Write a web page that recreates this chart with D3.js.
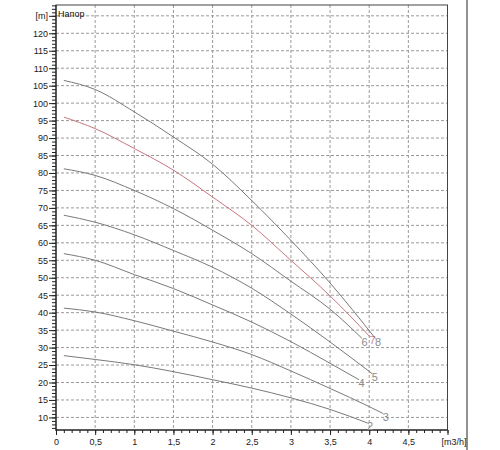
<!DOCTYPE html>
<html>
<head>
<meta charset="utf-8">
<script src="https://cdn.jsdelivr.net/npm/d3@7"></script>
<style>
    body { margin: 0; background: #fff; }
    .chart text { font-family: Arial, "Liberation Sans", sans-serif; }
    .axis text { font-size: 9px; fill: #222; }
    .axis line { stroke: #222; }
    .grid line { stroke: #9a9a9a; stroke-dasharray: 3,2; }
</style>
</head>
<body>
<div class="mainArea"></div>
<script>
// curve numbers (labels at the end of each curve)
let curveNames = ["2", "3", "4", "5", "6", "7", "8"];

// flow [m3/h] and head [m], one pair per curve
let flow2 = [0.1, 0.5, 1, 1.5, 2, 2.5, 3, 3.5, 3.98];
let head2 = [27.7, 26.6, 25.1, 23.1, 20.8, 18.4, 15.6, 12.3, 8.4];
let flow3 = [0.1, 0.5, 1, 1.5, 2, 2.5, 3, 3.5, 4, 4.18];
let head3 = [41.3, 40.2, 37.7, 34.7, 31.6, 28.0, 23.3, 18.3, 13.1, 11.1];
let flow4 = [0.1, 0.5, 1, 1.5, 2, 2.5, 3, 3.5, 3.87];
let head4 = [56.9, 55.0, 50.9, 46.9, 42.2, 37.3, 31.7, 25.5, 20.8];
let flow5 = [0.1, 0.5, 1, 1.5, 2, 2.5, 3, 3.5, 4.04];
let head5 = [67.9, 65.9, 62.3, 57.8, 53.0, 47.0, 39.6, 31.6, 22.5];
let flow6 = [0.1, 0.5, 1, 1.5, 2, 2.5, 3, 3.5, 3.91];
let head6 = [81.2, 79.3, 75.0, 69.8, 63.6, 56.9, 49.0, 41.0, 32.6];
let flow7 = [0.1, 0.5, 1, 1.5, 2, 2.5, 3, 3.5, 4.01];
let head7 = [96.0, 92.7, 87.0, 80.8, 73.1, 65.0, 55.0, 44.8, 33.1];
let flow8 = [0.1, 0.5, 1, 1.5, 2, 2.5, 3, 3.5, 4.08];
let head8 = [106.5, 103.9, 97.5, 90.3, 82.5, 72.1, 60.7, 48.5, 32.6];

// axis ticks
let xTicks = [0, 0.5, 1, 1.5, 2, 2.5, 3, 3.5, 4, 4.5, 5];
let xTickLabels = ["0", "0,5", "1", "1,5", "2", "2,5", "3", "3,5", "4", "4,5", "[m3/h]"];
let yTicks = [10, 15, 20, 25, 30, 35, 40, 45, 50, 55, 60, 65, 70, 75, 80, 85, 90, 95, 100, 105, 110, 115, 120, 125];
let yTickLabels = ["10", "15", "20", "25", "30", "35", "40", "45", "50", "55", "60", "65", "70", "75", "80", "85", "90", "95", "100", "105", "110", "115", "120", "[m]"];
let titleText = "Напор";

let flows = [flow2, flow3, flow4, flow5, flow6, flow7, flow8];
let heads = [head2, head3, head4, head5, head6, head7, head8];

drawChart();

function drawChart() {
    let svg = d3.select(".mainArea").append("svg")
        .attr("class", "chart")
        .attr("width", 500)
        .attr("height", 450);

    let left = 56, right = 447.5, top = 5, bottom = 430;

    let x = d3.scaleLinear().domain([0, 5]).range([left, right]);
    let y = d3.scaleLinear().domain([6.4, 128.1]).range([bottom, top]);

    // dashed grid
    let grid = svg.append("g").attr("class", "grid");
    grid.selectAll(".hline")
        .data(yTicks)
        .enter().append("line")
        .attr("x1", left).attr("x2", right)
        .attr("y1", d => y(d)).attr("y2", d => y(d));
    grid.selectAll(".vline")
        .data(xTicks.filter(d => d > 0 && d < 5))
        .enter().append("line")
        .attr("x1", d => x(d)).attr("x2", d => x(d))
        .attr("y1", top).attr("y2", bottom);

    // minor ticks
    let yAxisMinor = d3.axisLeft(y).tickValues(d3.range(7, 129, 1)).tickSize(4).tickFormat("");
    svg.append("g").attr("class", "axis")
        .attr("transform", "translate(" + left + ",0)")
        .call(yAxisMinor)
        .call(g => g.select(".domain").remove());
    let xAxisMinor = d3.axisBottom(x).tickValues(d3.range(0, 51, 1).map(d => d / 10)).tickSize(3).tickFormat("");
    svg.append("g").attr("class", "axis")
        .attr("transform", "translate(0," + bottom + ")")
        .call(xAxisMinor)
        .call(g => g.select(".domain").remove());

    // major ticks with labels
    let yAxis = d3.axisLeft(y).tickValues(yTicks).tickSize(7).tickPadding(1)
        .tickFormat((d, i) => yTickLabels[i]);
    svg.append("g").attr("class", "axis")
        .attr("transform", "translate(" + left + ",0)")
        .call(yAxis)
        .call(g => g.select(".domain").remove());

    let xAxis = d3.axisBottom(x).tickValues(xTicks).tickSize(5).tickPadding(4)
        .tickFormat((d, i) => xTickLabels[i]);
    let gx = svg.append("g").attr("class", "axis")
        .attr("transform", "translate(0," + bottom + ")")
        .call(xAxis)
        .call(g => g.select(".domain").remove());
    gx.selectAll(".tick text").filter(d => d == 5).attr("dx", 6);

    // plot frame
    svg.append("rect")
        .attr("x", left).attr("y", top)
        .attr("width", right - left).attr("height", bottom - top)
        .attr("fill", "none").attr("stroke", "#444").attr("stroke-width", 1);
    svg.append("line")
        .attr("x1", left).attr("x2", left).attr("y1", top).attr("y2", bottom + 1)
        .attr("stroke", "#111");
    svg.append("line")
        .attr("x1", left).attr("x2", right).attr("y1", bottom).attr("y2", bottom)
        .attr("stroke", "#111");

    // outer border line on the right of the picture
    svg.append("line")
        .attr("x1", 467).attr("x2", 467).attr("y1", 0).attr("y2", 450)
        .attr("stroke", "#222");

    svg.append("text")
        .attr("x", left + 2).attr("y", 17)
        .attr("font-size", "9px").attr("fill", "#111")
        .text(titleText);

    // curves
    let line = d3.line()
        .x(d => x(d[0]))
        .y(d => y(d[1]))
        .curve(d3.curveMonotoneX);

    let curves = svg.append("g").attr("class", "curves");
    for (let i = 0; i < curveNames.length; i++) {
        let pts = flows[i].map((q, j) => [q, heads[i][j]]);
        let color = curveNames[i] == "7" ? "#c7767e" : "#7a7a7a";
        curves.append("path")
            .attr("d", line(pts))
            .attr("fill", "none")
            .attr("stroke", color)
            .attr("stroke-width", 1);
        let last = pts[pts.length - 1];
        curves.append("text")
            .attr("x", x(last[0]) + 2.5)
            .attr("y", y(last[1]) + 3)
            .attr("text-anchor", "middle")
            .attr("dominant-baseline", "central")
            .attr("font-size", "11px")
            .attr("fill", curveNames[i] == "7" ? "#d08a90" : "#8c8c8c")
            .text(curveNames[i]);
    }
}
</script>
</body>
</html>
